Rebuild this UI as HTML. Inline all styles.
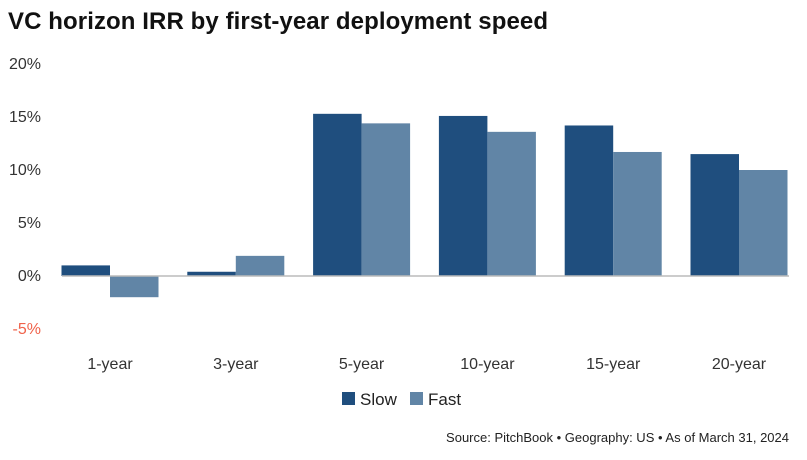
<!DOCTYPE html>
<html><head><meta charset="utf-8"><style>
body{margin:0;background:#fff;width:807px;height:455px;overflow:hidden;font-family:"Liberation Sans",sans-serif}
</style></head><body>
<svg id="chart" width="807" height="455">
<text x="8" y="29" font-size="24" font-weight="bold" fill="#111" textLength="540">VC horizon IRR by first-year deployment speed</text>
<g id="yaxis"></g><g id="bars"></g><g id="xaxis"></g>
<g>
<rect x="342" y="392" width="13" height="13" fill="#1f4e7e"/>
<text x="360" y="405" font-size="17" fill="#222">Slow</text>
<rect x="410" y="392" width="13" height="13" fill="#6185a6"/>
<text x="428" y="405" font-size="17" fill="#222">Fast</text>
</g>
<text x="789" y="442" font-size="13" fill="#222" text-anchor="end">Source: PitchBook  •  Geography: US  •  As of March 31, 2024</text>
</svg>
<script>
const categories=["1-year","3-year","5-year","10-year","15-year","20-year"];
const slowValues=[1.0,0.4,15.3,15.1,14.2,11.5];
const fastValues=[-2.0,1.9,14.4,13.6,11.7,10.0];
const yTicks=[20,15,10,5,0,-5];
const NS="http://www.w3.org/2000/svg";
function y(v){return 276-v*10.6;}
function xc(i){return 110+i*125.8;}
const barW=48.5;
function mk(t,a,p){const e=document.createElementNS(NS,t);for(const k in a)e.setAttribute(k,a[k]);p.appendChild(e);return e;}
const ya=document.getElementById('yaxis');
yTicks.forEach(t=>{const e=mk('text',{x:41,y:y(t)+5,'font-size':16,'text-anchor':'end',fill:t<0?'#f0624a':'#333'},ya);e.textContent=t+'%';

});
const bg=document.getElementById('bars');
categories.forEach((c,i)=>{
 [[slowValues[i],'#1f4e7e',-barW,'slow'],[fastValues[i],'#6185a6',0,'fast']].forEach(([v,col,off,s])=>{
  const r=mk('rect',{x:xc(i)+off,y:Math.min(y(v),y(0)),width:barW,height:Math.abs(y(v)-y(0)),fill:col},bg);
  
  
 });
 const t=mk('text',{x:xc(i),y:369,'font-size':16,'text-anchor':'middle',fill:'#333'},document.getElementById('xaxis'));
 t.textContent=c;
 
 
});
const zl=mk('line',{x1:62,x2:789,y1:y(0),y2:y(0),stroke:'#bbb','stroke-width':1.5},document.getElementById('chart'));


</script>
</body></html>
